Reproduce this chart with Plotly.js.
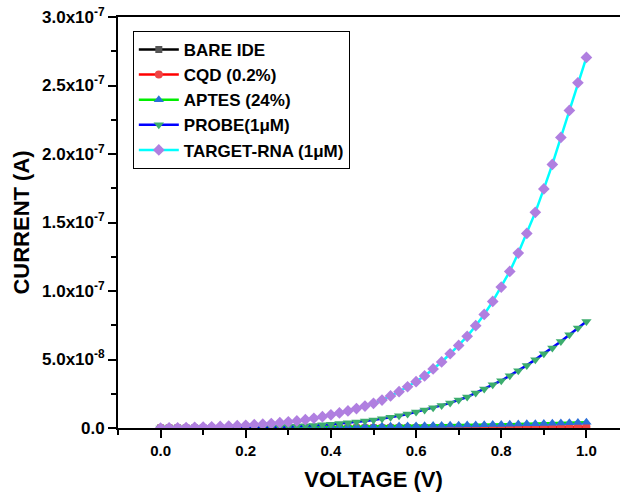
<!DOCTYPE html>
<html>
<head>
<meta charset="utf-8">
<script src="https://cdn.plot.ly/plotly-3.0.1.min.js"></script>
<style>
html,body{margin:0;padding:0;overflow:hidden;background:#fff;}
#chart{width:640px;height:497px;}
</style>
</head>
<body>
<div id="chart"></div>
<script>
const voltage = [0.00,0.02,0.04,0.06,0.08,0.10,0.12,0.14,0.16,0.18,0.20,0.22,0.24,0.26,0.28,0.30,0.32,0.34,0.36,0.38,0.40,0.42,0.44,0.46,0.48,0.50,0.52,0.54,0.56,0.58,0.60,0.62,0.64,0.66,0.68,0.70,0.72,0.74,0.76,0.78,0.80,0.82,0.84,0.86,0.88,0.90,0.92,0.94,0.96,0.98,1.00];

const bareIDE = [0,0,0,0,0,0,0,0,0,0,0,0,0,0,0,0,0,0,0,0,0,0,0,0,0,0,0,0,0,0,0,0,0,0,0,0,0,0,0,0,0,0,0,0,0,0,0,0,0,0,0];

const cqd = [0,0,0,0,0,1e-11,1e-11,2e-11,2e-11,3e-11,4e-11,5e-11,6e-11,7e-11,8e-11,9e-11,1.0e-10,1.1e-10,1.2e-10,1.4e-10,1.5e-10,1.6e-10,1.8e-10,2.0e-10,2.2e-10,2.5e-10,2.7e-10,3.0e-10,3.2e-10,3.5e-10,3.8e-10,4.1e-10,4.4e-10,4.7e-10,5.0e-10,5.4e-10,5.8e-10,6.2e-10,6.6e-10,7.0e-10,7.4e-10,7.8e-10,8.2e-10,8.6e-10,9.0e-10,9.3e-10,9.5e-10,9.7e-10,9.8e-10,9.9e-10,1.0e-9];

const aptes = [0,0,1e-11,2e-11,3e-11,5e-11,7e-11,9e-11,1.1e-10,1.4e-10,1.7e-10,2.0e-10,2.4e-10,2.8e-10,3.3e-10,3.8e-10,4.4e-10,5.0e-10,5.7e-10,6.4e-10,7.2e-10,8.0e-10,8.8e-10,9.6e-10,1.04e-9,1.12e-9,1.20e-9,1.28e-9,1.37e-9,1.46e-9,1.55e-9,1.64e-9,1.74e-9,1.84e-9,1.94e-9,2.05e-9,2.16e-9,2.27e-9,2.39e-9,2.51e-9,2.64e-9,2.77e-9,2.91e-9,3.05e-9,3.19e-9,3.34e-9,3.49e-9,3.64e-9,3.80e-9,3.96e-9,4.12e-9];

const probe = [0,2e-11,4e-11,6e-11,9e-11,1.2e-10,1.6e-10,2.0e-10,2.5e-10,3.0e-10,3.7e-10,4.5e-10,5.5e-10,6.6e-10,8.0e-10,1.1e-9,1.3e-9,1.6e-9,1.9e-9,2.3e-9,2.7e-9,3.2e-9,3.8e-9,4.4e-9,5.1e-9,5.9e-9,6.8e-9,7.8e-9,8.9e-9,1.02e-8,1.17e-8,1.31e-8,1.48e-8,1.65e-8,1.83e-8,2.04e-8,2.26e-8,2.56e-8,2.85e-8,3.16e-8,3.45e-8,3.82e-8,4.18e-8,4.57e-8,4.99e-8,5.42e-8,5.84e-8,6.32e-8,6.81e-8,7.30e-8,7.78e-8];

const targetRNA = [0,1e-10,2e-10,3.5e-10,5e-10,7e-10,9e-10,1.15e-9,1.4e-9,1.7e-9,2.0e-9,2.4e-9,2.8e-9,3.3e-9,3.9e-9,4.5e-9,5.2e-9,6.1e-9,7.1e-9,8.3e-9,9.6e-9,1.10e-8,1.25e-8,1.42e-8,1.60e-8,1.80e-8,2.04e-8,2.34e-8,2.65e-8,3.01e-8,3.38e-8,3.80e-8,4.31e-8,4.82e-8,5.42e-8,6.03e-8,6.69e-8,7.47e-8,8.29e-8,9.24e-8,1.029e-7,1.143e-7,1.277e-7,1.42e-7,1.574e-7,1.745e-7,1.924e-7,2.121e-7,2.318e-7,2.52e-7,2.705e-7];

const seriesNames = ["BARE IDE","CQD (0.2%)","APTES (24%)","PROBE(1μM)","TARGET-RNA (1μM)"];

const yTickVals = [0,5e-8,1e-7,1.5e-7,2e-7,2.5e-7,3e-7];
const yTickText = ["0.0","5.0x10<sup>-8</sup>","1.0x10<sup>-7</sup>","1.5x10<sup>-7</sup>","2.0x10<sup>-7</sup>","2.5x10<sup>-7</sup>","3.0x10<sup>-7</sup>"];
const yMinorVals = [2.5e-8,7.5e-8,1.25e-7,1.75e-7,2.25e-7,2.75e-7];

const FONT = "Liberation Sans, Arial, Helvetica, sans-serif";

const defs = [
  {y: bareIDE, line: "#000000", mcol: "#555555", sym: "square", size: 7},
  {y: cqd, line: "#ff0000", mcol: "#ee4444", sym: "circle", size: 8},
  {y: aptes, line: "#00ee00", mcol: "#2b6fd8", sym: "triangle-up", size: 9},
  {y: probe, line: "#0000ff", mcol: "#3cad6e", sym: "triangle-down", size: 9},
  {y: targetRNA, line: "#00ffff", mcol: "#b07fe0", sym: "diamond", size: 9}
];

const traces = defs.map((d, i) => ({
  type: "scatter",
  mode: "lines+markers",
  x: voltage,
  y: d.y,
  name: seriesNames[i],
  legendgroup: "g" + i,
  line: {color: d.line, width: 2.5},
  marker: {color: d.mcol, symbol: d.sym, size: d.size, line: {width: 0}}
}));

const layout = {
  width: 640,
  height: 497,
  margin: {l: 118, r: 11, t: 17, b: 69},
  paper_bgcolor: "#ffffff",
  plot_bgcolor: "#ffffff",
  font: {family: FONT, color: "#000", weight: "bold"},
  showlegend: true,
  legend: {
    x: 0.029, y: 0.966, xanchor: "left", yanchor: "top",
    bordercolor: "#000", borderwidth: 1, bgcolor: "#fff",
    font: {family: FONT, size: 17, weight: "bold", color: "#000"},
    tracegroupgap: 0,
    traceorder: "grouped",
    itemwidth: 40
  },
  xaxis: {
    range: [-0.1, 1.1],
    tick0: 0, dtick: 0.2, tickformat: ".1f",
    ticks: "outside", ticklen: 8, tickwidth: 2, tickcolor: "#000",
    minor: {dtick: 0.1, tick0: 0, ticks: "outside", ticklen: 5, tickwidth: 2, tickcolor: "#000"},
    showline: true, linewidth: 2, linecolor: "#000", mirror: true,
    showgrid: false, zeroline: false,
    tickfont: {family: FONT, size: 15, weight: "bold", color: "#000"},
    title: {text: "VOLTAGE (V)", font: {family: FONT, size: 22, weight: "bold", color: "#000"}, standoff: 14},
    automargin: false
  },
  yaxis: {
    range: [0, 3e-7],
    tickmode: "array", tickvals: yTickVals, ticktext: yTickText,
    ticks: "outside", ticklen: 8, tickwidth: 2, tickcolor: "#000",
    minor: {tickvals: yMinorVals, ticks: "outside", ticklen: 5, tickwidth: 2, tickcolor: "#000"},
    showline: true, linewidth: 2, linecolor: "#000", mirror: true,
    showgrid: false, zeroline: false,
    tickfont: {family: FONT, size: 17, weight: "bold", color: "#000"},
    title: {text: "CURRENT (A)", font: {family: FONT, size: 22, weight: "bold", color: "#000"}, standoff: 6},
    automargin: false
  }
};

Plotly.newPlot("chart", traces, layout, {displayModeBar: false, staticPlot: true});
</script>
</body>
</html>
